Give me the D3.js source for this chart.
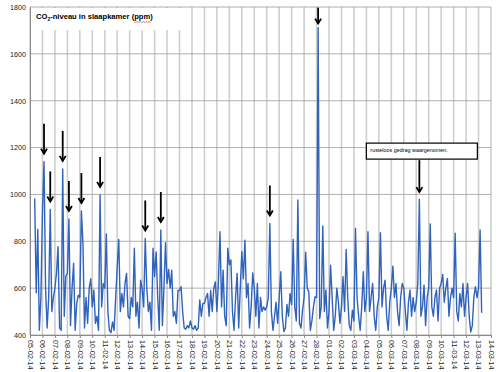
<!DOCTYPE html>
<html><head><meta charset="utf-8">
<script src="https://cdn.jsdelivr.net/npm/d3@7/dist/d3.min.js"></script>
<style>body{margin:0;background:#fff} text{font-family:"Liberation Sans",Arial,sans-serif}</style>
</head><body><svg id="c" width="500" height="372"></svg>
<script>
// CO2 readings (ppm), 3-hourly, starting 05-02-14 09:00
const wk1 = [983,580,850,420,560,
  926,1140,600,430,560,936,500,560,
  600,663,777,430,420,1109,480,650,
  663,895,440,600,705,420,535,570,
  560,929,791,430,560,450,600,640,
  520,592,450,480,420,998,520,620,
  600,831,500,420,410,456,420,560];
const wk2 = [690,808,500,577,520,620,663,480,
  470,560,520,770,480,540,430,634,
  600,520,812,600,500,540,420,770,
  650,755,560,420,848,440,600,794,
  620,680,600,677,480,500,450,590,
  590,606,500,430,425,440,430,460,
  430,425,440,420,430,550,480,535];
const wk3 = [535,560,577,480,590,500,600,627,
  500,630,841,520,677,480,440,770,
  700,720,500,420,560,663,430,600,
  756,640,805,560,620,430,520,665,
  600,480,620,430,560,500,520,506,
  520,560,876,500,420,480,540,450,
  560,670,480,415,430,530,480,577];
const wk4 = [530,808,520,460,976,450,430,506,
  560,753,600,584,420,460,520,563,
  560,1712,470,520,865,500,592,430,
  500,698,560,420,480,600,542,450,
  520,649,500,765,560,440,420,506,
  460,855,560,480,420,520,670,500,
  560,841,500,560,620,480,420,520];
const wk5 = [560,837,520,600,634,480,420,540,
  600,694,560,620,500,440,560,620,
  600,500,420,540,592,480,560,500,
  540,620,980,480,520,613,440,560,
  600,874,520,480,560,592,460,600,
  620,658,540,600,641,480,560,600,
  560,834,500,460,577,520,620,480];
const wk6 = [560,620,480,413,440,563,606,560,
  600,848,495];
const yTicks = [400,600,800,1000,1200,1400,1600,1800];
const arrowDays = [1.125,1.625,2.625,3.125,4.125,5.625,9.25,10.5,19.25,23.125];
const noteDay = 31.25;
const noteText = "rusteloos gedrag waargenomen.";
const titleMain = "CO", titleSub = "2", titleRest = "-niveau in slaapkamer (", titleUnit = "ppm", titleEnd = ")";

const co2 = [].concat(wk1, wk2, wk3, wk4, wk5, wk6);
const DAY = 864e5;
const t0 = Date.UTC(2014, 1, 5);
const tEnd = Date.UTC(2014, 2, 14);
const startOffset = 0.375, step = 0.125;
const data = co2.map((v, i) => ({t: new Date(t0 + (startOffset + i * step) * DAY), v}));

const L = 30, R = 491, T = 7, B = 335;
const x = d3.scaleUtc().domain([new Date(t0), new Date(tEnd)]).range([L, R]);
const y = d3.scaleLinear().domain([400, 1800]).range([B, T]);
const svg = d3.select("#c");

const days = d3.utcDay.range(new Date(t0), new Date(tEnd + DAY));
svg.append("g").selectAll("line").data(days).join("line")
  .attr("x1", d => x(d)).attr("x2", d => x(d)).attr("y1", T).attr("y2", B)
  .attr("stroke", "#cfcfcf").attr("stroke-width", 1.6);

// title box
svg.append("rect").attr("x", L + 1).attr("y", T + 1).attr("width", 155).attr("height", 22).attr("fill", "#fff");

svg.append("g").selectAll("line").data(yTicks).join("line")
  .attr("x1", L).attr("x2", R).attr("y1", d => y(d)).attr("y2", d => y(d))
  .attr("stroke", "#9a9a9a").attr("stroke-width", 0.8);

// axes
const xa = svg.append("g").attr("transform", `translate(0,${B})`)
  .call(d3.axisBottom(x).ticks(d3.utcDay.every(1)).tickFormat(d3.utcFormat("%d-%m-%y")).tickSize(3).tickSizeOuter(0));
xa.select(".domain").attr("stroke", "#8a8a8a");
xa.selectAll(".tick line").attr("stroke", "#8a8a8a");
xa.selectAll("text").attr("transform", "rotate(90)").attr("x", 5).attr("y", 0).attr("dy", "0.35em")
  .style("text-anchor", "start").style("font-size", "7.4px").attr("fill", "#222");

const ya = svg.append("g").attr("transform", `translate(${L},0)`)
  .call(d3.axisLeft(y).tickValues(yTicks).tickFormat(d3.format("d")).tickSize(0).tickPadding(4));
ya.select(".domain").attr("stroke", "#8a8a8a");
ya.selectAll("text").style("font-size", "7.2px").attr("fill", "#222");

// line
svg.append("path").datum(data)
  .attr("d", d3.line().x(d => x(d.t)).y(d => y(d.v)))
  .attr("fill", "none").attr("stroke", "#2f63bd").attr("stroke-width", 1.4).attr("stroke-linejoin", "round");

// arrows
function arrow(ax, tail, tip) {
  const g = svg.append("g").attr("stroke", "#000").attr("stroke-width", 1.8).attr("fill", "none");
  g.append("line").attr("x1", ax).attr("x2", ax).attr("y1", tail).attr("y2", tip);
  g.append("path").attr("d", `M${ax - 3},${tip - 5}L${ax},${tip}L${ax + 3},${tip - 5}`);
}
function valueAt(day) { return co2[Math.round((day - startOffset) / step)]; }
arrowDays.forEach(d => {
  const ax = x(new Date(t0 + d * DAY));
  const v = valueAt(d);
  const big = v > 1500;
  const tip = y(v) - (big ? 4 : 8);
  arrow(ax, tip - (big ? 16 : 30), tip);
});

// note
const nx = x(new Date(t0 + noteDay * DAY));
const ntip = y(valueAt(noteDay)) - 7;
const boxTop = ntip - 49;
svg.append("rect").attr("x", nx - 53).attr("y", boxTop).attr("width", 111).attr("height", 16)
  .attr("fill", "#fff").attr("stroke", "#000").attr("stroke-width", 1.2);
svg.append("text").attr("x", nx - 49).attr("y", boxTop + 9).style("font-size", "5.4px").attr("fill", "#000").text(noteText);
arrow(nx, boxTop + 17, ntip);

// title
const title = svg.append("text").attr("x", 36).attr("y", 19).style("font-size", "7.6px").style("font-weight", "bold").attr("fill", "#000");
title.append("tspan").text(titleMain);
title.append("tspan").attr("dy", 1.8).style("font-size", "5px").text(titleSub);
title.append("tspan").attr("dy", -1.8).text(titleRest);
title.append("tspan").text(titleUnit);
title.append("tspan").text(titleEnd);
const full = titleMain + titleSub + titleRest;
const tn = title.node();
const s = tn.getStartPositionOfChar(full.length).x;
const e = tn.getEndPositionOfChar(full.length + titleUnit.length - 1).x;
let dpath = `M${s},21.5`;
for (let px = s, k = 0; px < e; px += 1.5, k++) dpath += `L${px + 1.5},${k % 2 ? 21.5 : 22.6}`;
svg.append("path").attr("d", dpath).attr("fill", "none").attr("stroke", "#e02020").attr("stroke-width", 0.6);
</script></body></html>
